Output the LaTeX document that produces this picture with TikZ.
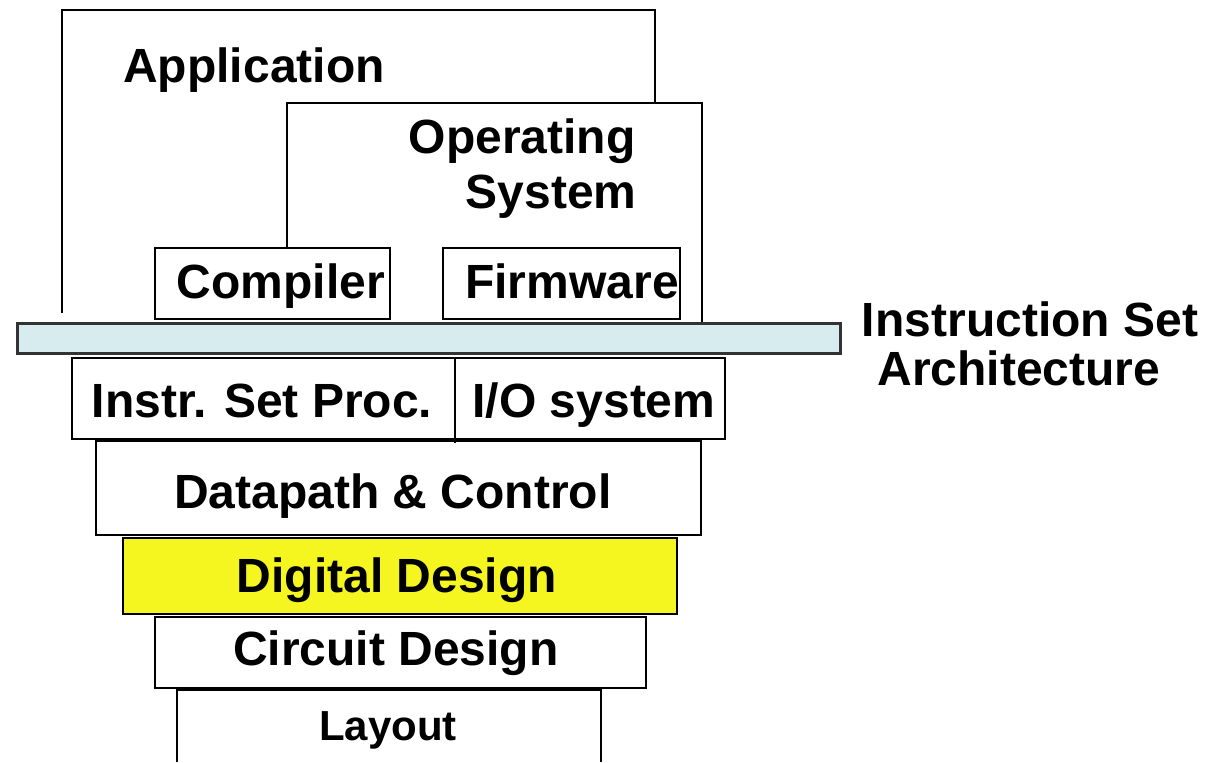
\documentclass[tikz,border=0pt]{standalone}
\usepackage{fontspec}
\setmainfont{Liberation Sans}
\definecolor{isablue}{RGB}{214,236,238}
\definecolor{ddyellow}{RGB}{245,245,32}
\tikzset{
  layer/.style={draw,line width=1pt},
  lbl/.style={anchor=base,font=\bfseries\fontsize{24}{28}\selectfont,inner sep=0pt}
}
\begin{document}
\begin{tikzpicture}[x=0.5pt,y=-0.5pt]
  \useasboundingbox (0,0) rectangle (1205,762);
  % software side
  \draw [layer] (62,313) -- (62,10) -- (655,10) -- (655,103);
  \node [lbl] (app) at (254,82) {Application};
  \draw [layer] (287,248) -- (287,103) -- (702,103) -- (702,323);
  \node [lbl,anchor=base east] (os) at (636,153) {Operating};
  \node [lbl,anchor=base east] (os2) at (637,208) {System};
  \draw [layer] (155,248) rectangle (390,319);
  \node [lbl] (comp) at (281,298) {Compiler};
  \draw [layer] (443,248) rectangle (680,319);
  \node [lbl] (fw) at (572,298) {Firmware};
  % the interface
  \draw [line width=1.5pt,draw=black!80,fill=isablue] (17,323) rectangle (840,353);
  \node [lbl] (isa) at (1030,336) {Instruction Set};
  \node [lbl] (isa2) at (1019,385) {Architecture};
  % hardware side
  \draw [layer] (72,358) rectangle (725,439);
  \draw [layer] (455,358) -- (455,443);
  \node [lbl] (proc) at (262,417) {Instr. Set Proc.};
  \node [lbl] (io) at (594,417) {I/O system};
  \draw [layer] (96,441) rectangle (701,535);
  \node [lbl] (dp) at (393,508) {Datapath \& Control};
  \draw [layer,fill=ddyellow] (123,538) rectangle (677,614);
  \node [lbl] (dig) at (397,592) {Digital Design};
  \draw [layer] (155,617) rectangle (646,688);
  \node [lbl] (circ) at (396,665) {Circuit Design};
  \draw [layer] (177,762) -- (177,690) -- (601,690) -- (601,762);
  \node [lbl,font=\bfseries\fontsize{21}{25}\selectfont] (lay) at (388,740) {Layout};
\end{tikzpicture}
\end{document}
